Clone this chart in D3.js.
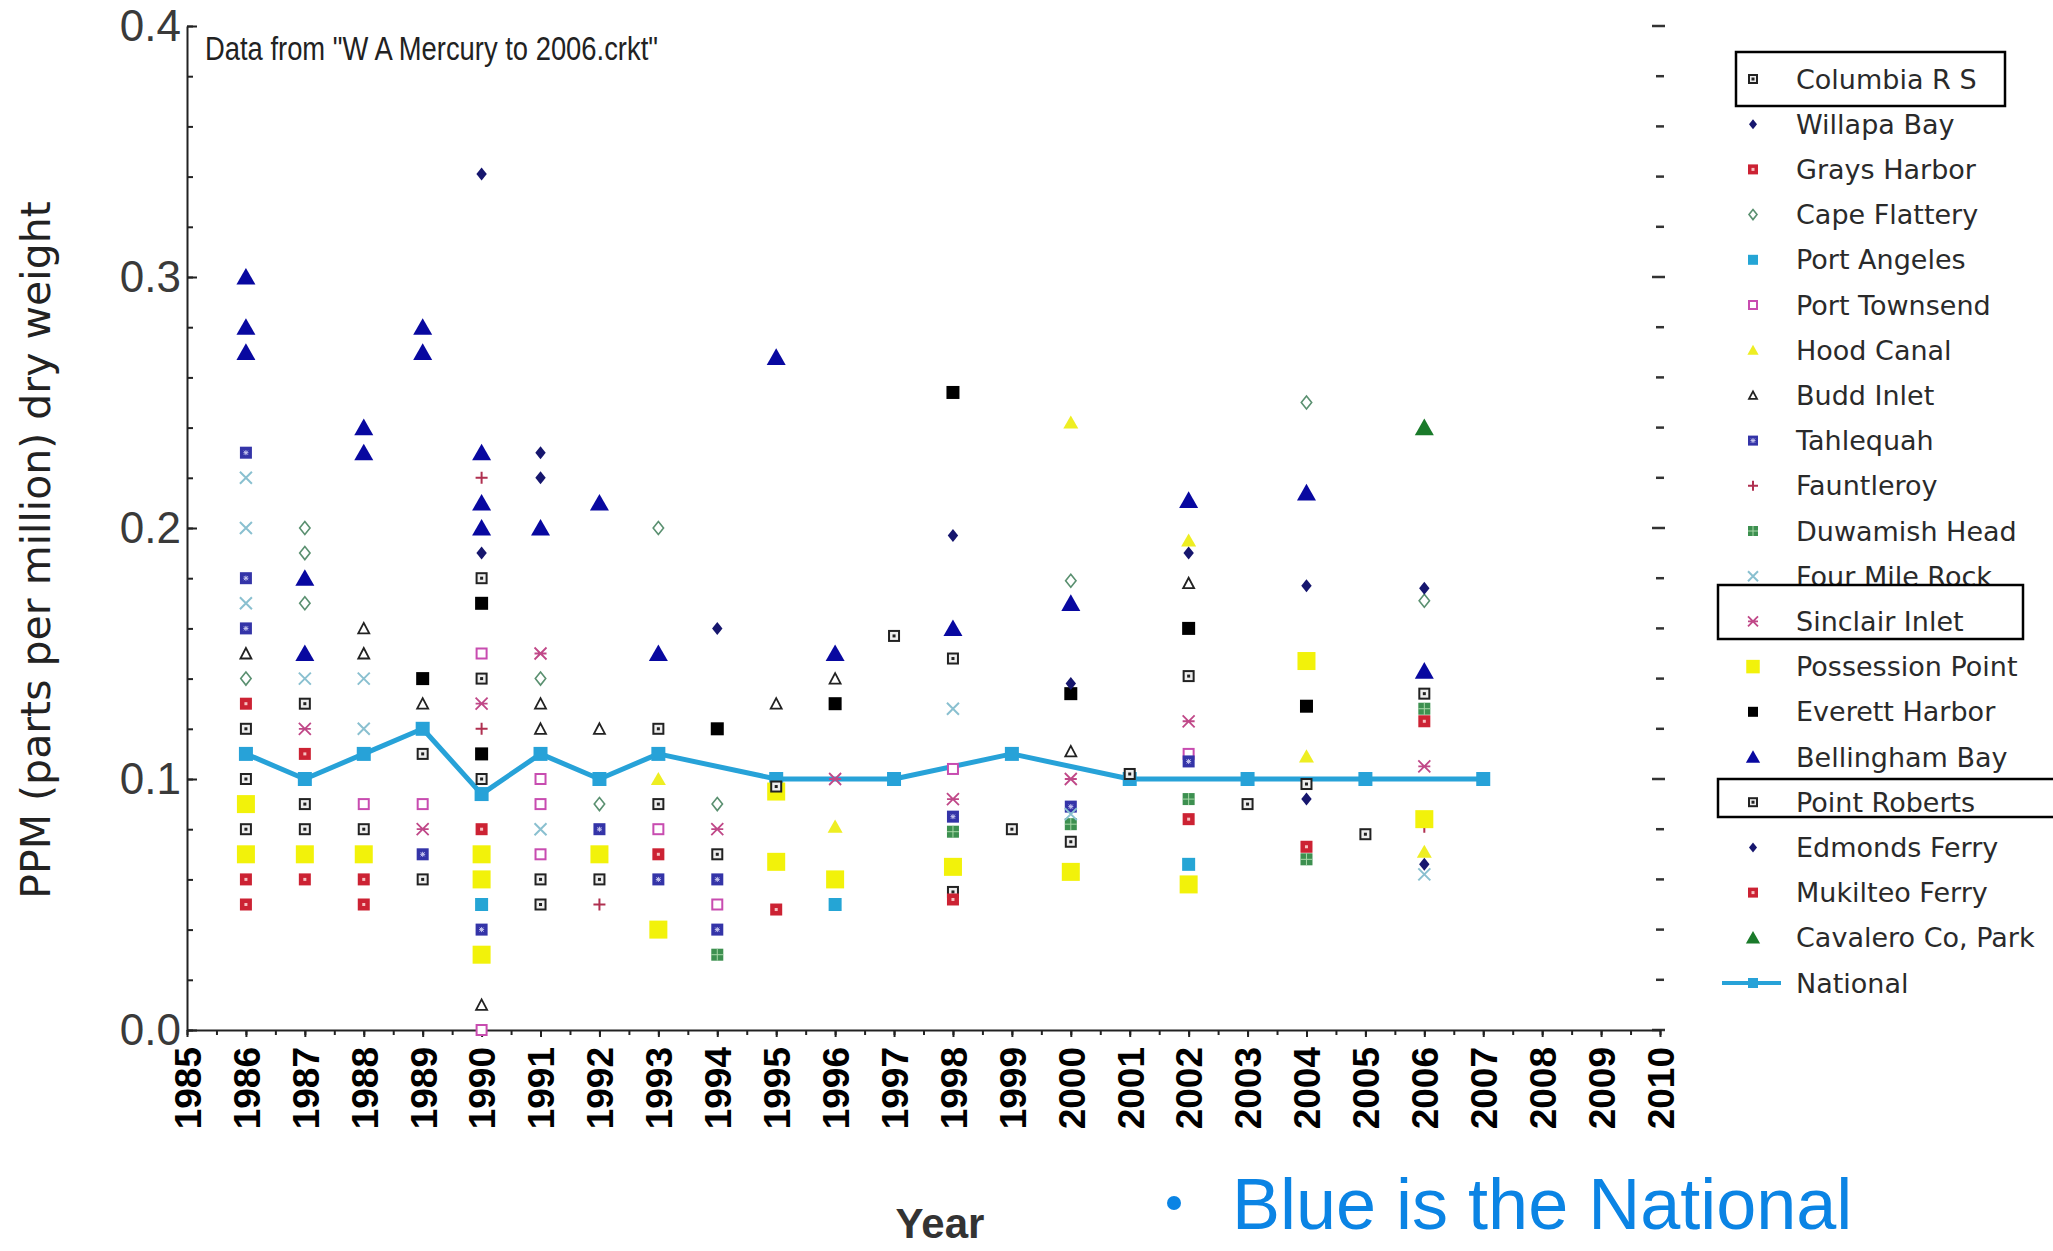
<!DOCTYPE html>
<html>
<head>
<meta charset="utf-8">
<script src="https://cdn.jsdelivr.net/npm/d3@7"></script>
<style>
  html, body { margin: 0; padding: 0; background: #fff; }
  svg { display: block; }
</style>
</head>
<body>
<svg id="chart" width="2053" height="1251"></svg>
<script>
// ---------------- DATA ----------------
const seriesNames = ["Columbia R S", "Willapa Bay", "Grays Harbor", "Cape Flattery", "Port Angeles",
  "Port Townsend", "Hood Canal", "Budd Inlet", "Tahlequah", "Fauntleroy", "Duwamish Head",
  "Four Mile Rock", "Sinclair Inlet", "Possession Point", "Everett Harbor", "Bellingham Bay",
  "Point Roberts", "Edmonds Ferry", "Mukilteo Ferry", "Cavalero Co, Park"];

const columbiaRS = [[1986,0.12],[1986,0.08],[1987,0.13],[1987,0.09],[1988,0.08],[1990,0.18],[1990,0.14],[1990,0.10],[1992,0.06],[1993,0.12],[1993,0.09],[1994,0.07],[2000,0.075],[2002,0.141],[2006,0.134]];
const willapaBay = [[1990,0.341],[1990,0.19],[1991,0.23],[1991,0.22],[1994,0.16],[1998,0.197]];
const graysHarbor = [[1986,0.13],[1986,0.06],[1986,0.05],[1987,0.11],[1987,0.06],[1988,0.06],[1988,0.05],[1990,0.08],[1993,0.07],[1995,0.048]];
const capeFlattery = [[1986,0.14],[1987,0.20],[1987,0.19],[1987,0.17],[1991,0.14],[1992,0.09],[1993,0.20],[1994,0.09],[2000,0.179],[2004,0.25],[2006,0.171]];
const portAngeles = [[1990,0.05],[1996,0.05],[2002,0.066]];
const portTownsend = [[1988,0.09],[1989,0.09],[1990,0.15],[1990,0.0],[1991,0.10],[1991,0.09],[1991,0.07],[1993,0.08],[1994,0.05],[1998,0.104],[2002,0.110]];
const hoodCanal = [[1993,0.10],[1996,0.081],[2000,0.242],[2002,0.195],[2004,0.109],[2006,0.071]];
const buddInlet = [[1986,0.15],[1988,0.16],[1988,0.15],[1989,0.13],[1990,0.01],[1991,0.13],[1991,0.12],[1992,0.12],[1995,0.13],[1996,0.14],[2000,0.111],[2002,0.178]];
const tahlequah = [[1986,0.23],[1986,0.18],[1986,0.16],[1989,0.07],[1990,0.04],[1992,0.08],[1993,0.06],[1994,0.06],[1994,0.04],[1998,0.085],[2000,0.089],[2002,0.107]];
const fauntleroy = [[1990,0.22],[1990,0.12],[1992,0.05],[2006,0.081]];
const duwamishHead = [[1994,0.03],[1998,0.079],[2000,0.082],[2002,0.092],[2004,0.068],[2006,0.128]];
const fourMileRock = [[1986,0.22],[1986,0.20],[1986,0.17],[1987,0.14],[1988,0.14],[1988,0.12],[1991,0.08],[1998,0.128],[2000,0.086],[2006,0.062]];
const sinclairInlet = [[1987,0.12],[1989,0.08],[1990,0.13],[1991,0.15],[1994,0.08],[1996,0.10],[1998,0.092],[2000,0.10],[2002,0.123],[2006,0.105]];
const possessionPoint = [[1986,0.09],[1986,0.07],[1987,0.07],[1988,0.07],[1990,0.07],[1990,0.06],[1990,0.03],[1992,0.07],[1993,0.04],[1995,0.095],[1995,0.067],[1996,0.06],[1998,0.065],[2000,0.063],[2002,0.058],[2004,0.147],[2006,0.084]];
const everettHarbor = [[1989,0.14],[1990,0.17],[1990,0.11],[1994,0.12],[1996,0.13],[1998,0.254],[2000,0.134],[2002,0.160],[2004,0.129]];
const bellinghamBay = [[1986,0.30],[1986,0.28],[1986,0.27],[1987,0.18],[1987,0.15],[1988,0.24],[1988,0.23],[1989,0.28],[1989,0.27],[1990,0.23],[1990,0.21],[1990,0.20],[1991,0.20],[1992,0.21],[1993,0.15],[1995,0.268],[1996,0.15],[1998,0.16],[2000,0.17],[2002,0.211],[2004,0.214],[2006,0.143]];
const pointRoberts = [[1986,0.10],[1987,0.08],[1989,0.11],[1989,0.06],[1991,0.06],[1991,0.05],[1995,0.097],[1997,0.157],[1998,0.148],[1998,0.055],[1999,0.08],[2001,0.102],[2003,0.09],[2004,0.098],[2005,0.078]];
const edmondsFerry = [[2000,0.138],[2002,0.19],[2004,0.177],[2004,0.092],[2006,0.176],[2006,0.066]];
const mukilteoFerry = [[1998,0.052],[2002,0.084],[2004,0.073],[2006,0.123]];
const cavaleroCoPark = [[2006,0.240]];

const nationalYears = [1986,1987,1988,1989,1990,1991,1992,1993,1995,1997,1999,2001,2003,2005,2007];
const nationalValues = [0.11,0.10,0.11,0.12,0.094,0.11,0.10,0.11,0.10,0.10,0.11,0.10,0.10,0.10,0.10];

const xTickYears = d3.range(1985, 2011);
const yTickValues = [0, 0.1, 0.2, 0.3, 0.4];

const seriesData = [columbiaRS, willapaBay, graysHarbor, capeFlattery, portAngeles, portTownsend,
  hoodCanal, buddInlet, tahlequah, fauntleroy, duwamishHead, fourMileRock, sinclairInlet,
  possessionPoint, everettHarbor, bellinghamBay, pointRoberts, edmondsFerry, mukilteoFerry, cavaleroCoPark];

// ---------------- STYLES ----------------
const styles = {
  "Columbia R S":     {type: "hollowSqDot", color: "#222", size: 12},
  "Willapa Bay":      {type: "diamond", color: "#16166e", size: 13},
  "Grays Harbor":     {type: "sqDot", color: "#cc2233", size: 12},
  "Cape Flattery":    {type: "hollowDiamond", color: "#5a9070", size: 13},
  "Port Angeles":     {type: "square", color: "#25a5d5", size: 13},
  "Port Townsend":    {type: "hollowSq", color: "#c84cb0", size: 12},
  "Hood Canal":       {type: "triangle", color: "#eeee22", size: 15},
  "Budd Inlet":       {type: "hollowTri", color: "#222", size: 13},
  "Tahlequah":        {type: "sqStar", color: "#3434a8", size: 12},
  "Fauntleroy":       {type: "plus", color: "#b03050", size: 12},
  "Duwamish Head":    {type: "sqGrid", color: "#3d9050", size: 12},
  "Four Mile Rock":   {type: "cross", color: "#8ac0d0", size: 12},
  "Sinclair Inlet":   {type: "asterisk", color: "#c04888", size: 12},
  "Possession Point": {type: "square", color: "#f2f20a", size: 18},
  "Everett Harbor":   {type: "square", color: "#000", size: 13},
  "Bellingham Bay":   {type: "triangle", color: "#0808a0", size: 19},
  "Point Roberts":    {type: "hollowSqDot", color: "#222", size: 12},
  "Edmonds Ferry":    {type: "diamond", color: "#16166e", size: 13},
  "Mukilteo Ferry":   {type: "sqDot", color: "#cc2233", size: 12},
  "Cavalero Co, Park":{type: "triangle", color: "#1a7a2a", size: 19}
};
const nationalColor = "#27a2d8";

// ---------------- CHART ----------------
const svg = d3.select("#chart");
const x = d3.scaleLinear().domain([1985, 2010]).range([187, 1660]);
const y = d3.scaleLinear().domain([0, 0.4]).range([1030, 26]);

function drawSymbol(g, st, s) {
  const h = s / 2;
  const c = st.color;
  switch (st.type) {
    case "hollowSqDot":
      g.append("rect").attr("x", -h + 1).attr("y", -h + 1).attr("width", s - 2).attr("height", s - 2)
        .attr("fill", "#eee").attr("stroke", c).attr("stroke-width", 2);
      g.append("rect").attr("x", -1.5).attr("y", -1.5).attr("width", 3).attr("height", 3).attr("fill", c);
      break;
    case "diamond":
      g.append("path").attr("d", `M0,${-h}L${h * 0.8},0L0,${h}L${-h * 0.8},0Z`).attr("fill", c);
      break;
    case "hollowDiamond":
      g.append("path").attr("d", `M0,${-h}L${h * 0.8},0L0,${h}L${-h * 0.8},0Z`)
        .attr("fill", "#fff").attr("stroke", c).attr("stroke-width", 1.6);
      break;
    case "sqDot":
      g.append("rect").attr("x", -h).attr("y", -h).attr("width", s).attr("height", s).attr("fill", c);
      g.append("rect").attr("x", -1.5).attr("y", -1.5).attr("width", 3).attr("height", 3).attr("fill", "#f6c0c0");
      break;
    case "square":
      g.append("rect").attr("x", -h).attr("y", -h).attr("width", s).attr("height", s).attr("fill", c);
      break;
    case "hollowSq":
      g.append("rect").attr("x", -h + 1).attr("y", -h + 1).attr("width", s - 2).attr("height", s - 2)
        .attr("fill", "#fff").attr("stroke", c).attr("stroke-width", 2);
      break;
    case "triangle":
      g.append("path").attr("d", `M0,${-h * 0.95}L${h},${h * 0.8}L${-h},${h * 0.8}Z`).attr("fill", c);
      break;
    case "hollowTri":
      g.append("path").attr("d", `M0,${-h + 1}L${h - 1},${h - 1.5}L${-h + 1},${h - 1.5}Z`)
        .attr("fill", "#fff").attr("stroke", c).attr("stroke-width", 1.8);
      break;
    case "sqStar":
      g.append("rect").attr("x", -h).attr("y", -h).attr("width", s).attr("height", s).attr("fill", c);
      g.append("path").attr("d", `M-2.5,0H2.5M0,-2.5V2.5M-2,-2L2,2M-2,2L2,-2`)
        .attr("stroke", "#c8c8f0").attr("stroke-width", 1);
      break;
    case "plus":
      g.append("path").attr("d", `M${-h},0H${h}M0,${-h}V${h}`).attr("stroke", c).attr("stroke-width", 2);
      break;
    case "sqGrid":
      g.append("rect").attr("x", -h).attr("y", -h).attr("width", s).attr("height", s).attr("fill", c);
      g.append("path").attr("d", `M${-h},0H${h}M0,${-h}V${h}`).attr("stroke", "#a8d8a8").attr("stroke-width", 1);
      break;
    case "cross":
      g.append("path").attr("d", `M${-h},${-h}L${h},${h}M${-h},${h}L${h},${-h}`)
        .attr("stroke", c).attr("stroke-width", 2);
      break;
    case "asterisk":
      g.append("path").attr("d", `M${-h},${-h}L${h},${h}M${-h},${h}L${h},${-h}M${-h},0H${h}`)
        .attr("stroke", c).attr("stroke-width", 1.8);
      break;
  }
}

// Y axis (left): minor ticks + major ticks pointing inward
const yMinor = d3.range(0, 0.4001, 0.02);
svg.append("g").attr("transform", `translate(${x(1985)},0)`)
  .call(d3.axisLeft(y).tickValues(yMinor).tickSize(-6).tickFormat(""))
  .call(g => g.select(".domain").remove())
  .call(g => g.selectAll("line").attr("stroke", "#222").attr("stroke-width", 2));
svg.append("g").attr("transform", `translate(${x(1985)},0)`)
  .call(d3.axisLeft(y).tickValues(yTickValues).tickSizeInner(-10).tickSizeOuter(0).tickPadding(6).tickFormat(d3.format(".1f")))
  .call(g => g.select(".domain").attr("stroke", "#222").attr("stroke-width", 2))
  .call(g => g.selectAll("line").attr("stroke", "#222").attr("stroke-width", 2))
  .call(g => g.selectAll("text").attr("font-family", "Liberation Sans, Arial, sans-serif")
    .attr("font-size", 44).attr("fill", "#3a3a3a"));

// Right tick marks (no axis line)
svg.append("g").selectAll("line").data(yMinor).join("line")
  .attr("x1", (d, i) => x(2010) - (i % 5 === 0 ? 8 : 4))
  .attr("x2", (d, i) => x(2010) + (i % 5 === 0 ? 5 : 4))
  .attr("y1", d => y(d)).attr("y2", d => y(d))
  .attr("stroke", "#333").attr("stroke-width", 2.5);

// X axis: half-year minor ticks + year major ticks
svg.append("g").attr("transform", `translate(0,${y(0)})`)
  .call(d3.axisBottom(x).tickValues(d3.range(1985, 2010.01, 0.5)).tickSize(5).tickFormat(""))
  .call(g => g.select(".domain").remove())
  .call(g => g.selectAll("line").attr("stroke", "#222").attr("stroke-width", 2));
const xAxisG = svg.append("g").attr("transform", `translate(0,${y(0)})`)
  .call(d3.axisBottom(x).tickValues(xTickYears).tickSizeInner(7).tickSizeOuter(0).tickFormat(d3.format("d")))
  .call(g => g.select(".domain").attr("stroke", "#222").attr("stroke-width", 2))
  .call(g => g.selectAll("line").attr("stroke", "#222").attr("stroke-width", 2));
xAxisG.selectAll("text")
  .attr("transform", "translate(0,17) rotate(-90)")
  .attr("x", 0).attr("y", 0).attr("dy", "0.36em")
  .attr("text-anchor", "end")
  .attr("font-family", "Liberation Sans, Arial, sans-serif")
  .attr("font-weight", "bold").attr("font-size", 37).attr("fill", "#000");

// Axis titles
svg.append("text").attr("transform", "translate(36,550) rotate(-90)")
  .attr("text-anchor", "middle").attr("dominant-baseline", "central")
  .attr("font-family", "DejaVu Sans, sans-serif").attr("font-size", 41).attr("fill", "#222")
  .text("PPM (parts per million) dry weight");
svg.append("text").attr("x", 940).attr("y", 1238).attr("text-anchor", "middle")
  .attr("font-family", "Liberation Sans, Arial, sans-serif").attr("font-weight", "bold")
  .attr("font-size", 42).attr("fill", "#333").text("Year");

// Annotation
svg.append("text").attr("x", 205).attr("y", 60)
  .attr("font-family", "Liberation Sans, Arial, sans-serif").attr("font-size", 33)
  .attr("textLength", 453).attr("lengthAdjust", "spacingAndGlyphs").attr("fill", "#222")
  .text("Data from \"W A Mercury to 2006.crkt\"");

// National line (drawn below points)
const nationalPts = nationalYears.map((yr, i) => [yr, nationalValues[i]]);
svg.append("path").datum(nationalPts)
  .attr("d", d3.line().x(d => x(d[0])).y(d => y(d[1])))
  .attr("fill", "none").attr("stroke", nationalColor).attr("stroke-width", 5).attr("stroke-linejoin", "round");
svg.append("g").selectAll("rect").data(nationalPts).join("rect")
  .attr("x", d => x(d[0]) - 7).attr("y", d => y(d[1]) - 7).attr("width", 14).attr("height", 14)
  .attr("fill", nationalColor);

// Points
seriesNames.forEach((name, si) => {
  const st = styles[name];
  const g = svg.append("g").attr("class", "series");
  seriesData[si].forEach(p => {
    const pg = g.append("g").attr("transform", `translate(${x(p[0])},${y(p[1])})`);
    drawSymbol(pg, st, st.size);
  });
});

// Legend
const legendNames = seriesNames.concat(["National"]);
const lg = svg.append("g");
const legY = d3.scaleLinear().domain([0, legendNames.length - 1]).range([79, 983]);
legendNames.forEach((name, i) => {
  const yy = legY(i);
  if (name === "National") {
    lg.append("line").attr("x1", 1722).attr("x2", 1781).attr("y1", yy).attr("y2", yy)
      .attr("stroke", nationalColor).attr("stroke-width", 4);
    lg.append("rect").attr("x", 1753 - 5).attr("y", yy - 5).attr("width", 10).attr("height", 10).attr("fill", nationalColor);
  } else {
    const st = styles[name];
    const sg = lg.append("g").attr("transform", `translate(1753,${yy})`);
    drawSymbol(sg, st, Math.max(10, st.size * 0.75));
  }
  lg.append("text").attr("x", 1796).attr("y", yy).attr("dominant-baseline", "central")
    .attr("font-family", "DejaVu Sans, sans-serif").attr("font-size", 27).attr("fill", "#2a2a2a")
    .text(name);
});

// Highlight boxes around selected legend entries
const boxes = [[1736, 52, 2005, 106], [1718, 585, 2023, 639], [1718, 779, 2060, 817]];
svg.append("g").selectAll("rect").data(boxes).join("rect")
  .attr("x", d => d[0]).attr("y", d => d[1]).attr("width", d => d[2] - d[0]).attr("height", d => d[3] - d[1])
  .attr("fill", "none").attr("stroke", "#000").attr("stroke-width", 2.5);

// Bullet note
svg.append("circle").attr("cx", 1174).attr("cy", 1203).attr("r", 7).attr("fill", "#0b84e4");
svg.append("text").attr("x", 1232).attr("y", 1229)
  .attr("font-family", "Liberation Sans, Arial, sans-serif").attr("font-size", 72).attr("fill", "#0b84e4")
  .text("Blue is the National");
</script>
</body>
</html>
